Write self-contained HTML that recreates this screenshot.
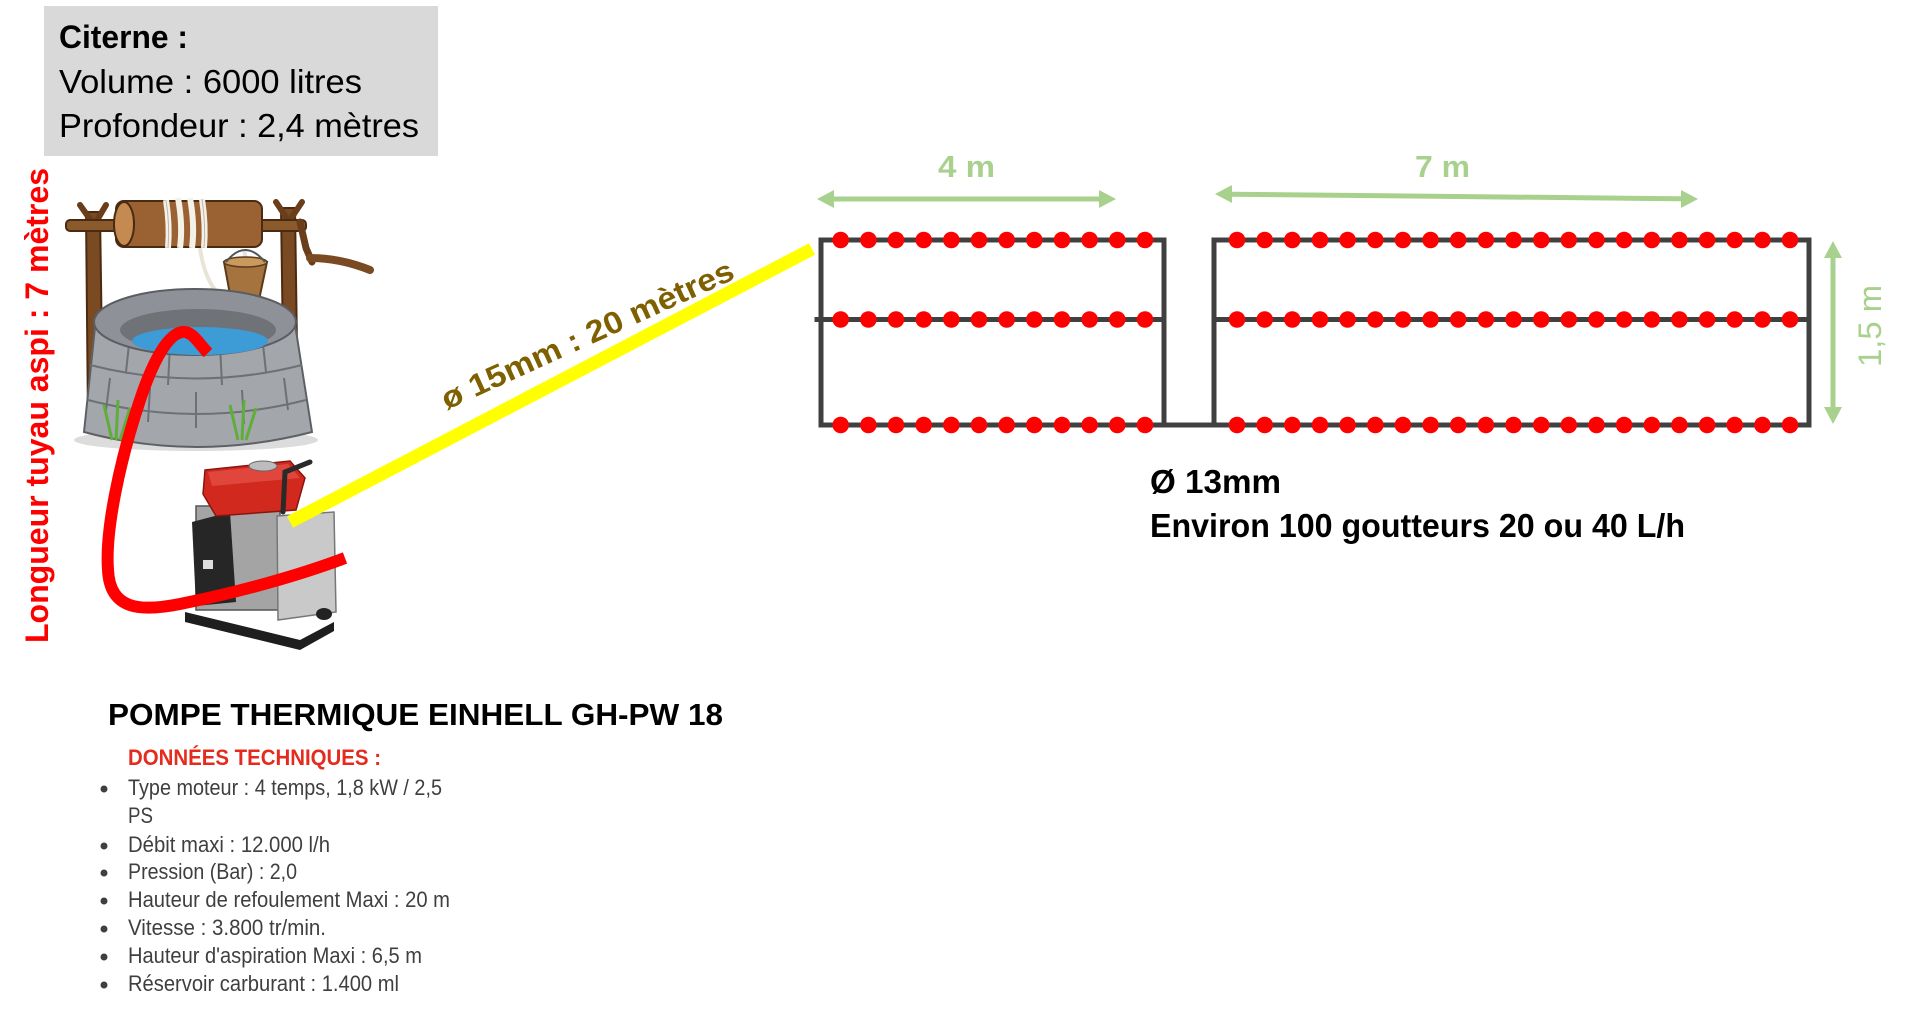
<!DOCTYPE html>
<html><head><meta charset="utf-8"><style>
html,body{margin:0;padding:0;background:#fff;}
body{width:1914px;height:1009px;overflow:hidden;}
svg{display:block;}
text{font-family:"Liberation Sans",sans-serif;}
</style></head><body>
<svg width="1914" height="1009" viewBox="0 0 1914 1009" xmlns="http://www.w3.org/2000/svg">
<defs>
<g id="rowL" fill="#ff0000">
<circle cx="840.7" cy="0" r="8.3"/><circle cx="868.4" cy="0" r="8.3"/><circle cx="896.0" cy="0" r="8.3"/><circle cx="923.7" cy="0" r="8.3"/><circle cx="951.3" cy="0" r="8.3"/><circle cx="979.0" cy="0" r="8.3"/><circle cx="1006.7" cy="0" r="8.3"/><circle cx="1034.3" cy="0" r="8.3"/><circle cx="1062.0" cy="0" r="8.3"/><circle cx="1089.6" cy="0" r="8.3"/><circle cx="1117.3" cy="0" r="8.3"/><circle cx="1145.0" cy="0" r="8.3"/>
</g>
<g id="rowR" fill="#ff0000">
<circle cx="1237.0" cy="0" r="8.3"/><circle cx="1264.7" cy="0" r="8.3"/><circle cx="1292.3" cy="0" r="8.3"/><circle cx="1320.0" cy="0" r="8.3"/><circle cx="1347.6" cy="0" r="8.3"/><circle cx="1375.3" cy="0" r="8.3"/><circle cx="1402.9" cy="0" r="8.3"/><circle cx="1430.6" cy="0" r="8.3"/><circle cx="1458.2" cy="0" r="8.3"/><circle cx="1485.9" cy="0" r="8.3"/><circle cx="1513.5" cy="0" r="8.3"/><circle cx="1541.2" cy="0" r="8.3"/><circle cx="1568.8" cy="0" r="8.3"/><circle cx="1596.5" cy="0" r="8.3"/><circle cx="1624.1" cy="0" r="8.3"/><circle cx="1651.8" cy="0" r="8.3"/><circle cx="1679.4" cy="0" r="8.3"/><circle cx="1707.1" cy="0" r="8.3"/><circle cx="1734.7" cy="0" r="8.3"/><circle cx="1762.4" cy="0" r="8.3"/><circle cx="1790.0" cy="0" r="8.3"/>
</g>
</defs>

<!-- Citerne box -->
<rect x="44" y="6" width="394" height="150" fill="#d9d9d9"/>
<text x="59" y="48" font-size="32" font-weight="bold" fill="#000" textLength="129" lengthAdjust="spacingAndGlyphs">Citerne :</text>
<text x="59" y="93" font-size="33" fill="#000" textLength="303" lengthAdjust="spacingAndGlyphs">Volume : 6000 litres</text>
<text x="59" y="137" font-size="33" fill="#000" textLength="360" lengthAdjust="spacingAndGlyphs">Profondeur : 2,4 mètres</text>

<!-- Vertical red label -->
<text transform="translate(48,643) rotate(-90)" font-size="32" font-weight="bold" fill="#ff0000" textLength="475" lengthAdjust="spacingAndGlyphs">Longueur tuyau aspi : 7 mètres</text>

<!-- WELL -->
<ellipse cx="196" cy="440" rx="122" ry="11" fill="#dcdcdc"/>
<path d="M86 212 L100 212 L103 420 L88 420 Z" fill="#7a4a22" stroke="#4a2a10" stroke-width="2"/>
<path d="M281 208 L295 208 L298 416 L284 416 Z" fill="#7a4a22" stroke="#4a2a10" stroke-width="2"/>
<path d="M80 205 L92 222 M106 205 L96 222 M276 202 L288 220 M302 202 L290 220" stroke="#6a3e1a" stroke-width="6" stroke-linecap="round"/>
<rect x="66" y="220" width="240" height="11" rx="4" fill="#8a5a2c" stroke="#4a2a10" stroke-width="2"/>
<rect x="116" y="201" width="146" height="46" rx="8" fill="#9a6233" stroke="#4a2a10" stroke-width="2"/>
<ellipse cx="124" cy="224" rx="10" ry="22" fill="#c48a52" stroke="#4a2a10" stroke-width="2"/>
<path d="M166 200 Q170 225 168 248 M178 198 Q183 225 180 248 M190 198 Q195 225 192 248 M202 199 Q206 225 204 248" stroke="#f4f1e8" stroke-width="6" fill="none"/>
<path d="M166 200 Q170 225 168 248 M202 199 Q206 225 204 248" stroke="#bdb7a8" stroke-width="1" fill="none"/>
<path d="M200 248 Q205 285 225 300 M244 250 Q246 258 246 262" stroke="#e8e4d8" stroke-width="4" fill="none"/>
<path d="M224 262 L267 262 L259 300 L231 300 Z" fill="#a5733d" stroke="#5a3a1a" stroke-width="2"/>
<ellipse cx="245.5" cy="262" rx="21.5" ry="5" fill="#c9995e" stroke="#5a3a1a" stroke-width="1.5"/>
<path d="M226 262 Q245 238 265 262" stroke="#555" stroke-width="2" fill="none"/>
<path d="M300 222 L306 248 L312 262" stroke="#6a3e1a" stroke-width="7" fill="none" stroke-linecap="round"/>
<path d="M310 258 Q340 258 370 270" stroke="#7a4a22" stroke-width="8" fill="none" stroke-linecap="round"/>
<path d="M96 318 L84 432 Q196 462 312 432 L294 318 Z" fill="#a3a7ac" stroke="#5d6166" stroke-width="2"/>
<path d="M90 365 Q196 392 302 365 M88 400 Q196 428 306 400 M130 335 L126 372 M170 345 L168 385 M220 345 L222 385 M262 335 L266 372 M110 378 L106 410 M150 388 L148 422 M196 392 L196 428 M242 390 L244 424 M284 378 L288 410" stroke="#6d7176" stroke-width="2" fill="none"/>
<ellipse cx="195" cy="322" rx="101" ry="33" fill="#8e9298" stroke="#5a5e63" stroke-width="2"/>
<ellipse cx="198" cy="330" rx="78" ry="21" fill="#6f7378"/>
<ellipse cx="200" cy="341" rx="68" ry="14" fill="#3d9bd6"/>
<path d="M112 440 L104 405 M116 440 L118 400 M120 440 L130 408 M238 440 L230 405 M242 440 L244 400 M246 440 L256 408" stroke="#5fae3a" stroke-width="3" fill="none"/>

<!-- PUMP -->
<path d="M185 612 L300 640 L334 622 L334 631 L300 650 L185 622 Z" fill="#1e1e1e"/>
<rect x="196" y="506" width="84" height="104" fill="#a4a4a4" stroke="#555" stroke-width="1.5"/>
<path d="M192 522 L230 512 L236 602 L196 606 Z" fill="#262626"/>
<rect x="203" y="560" width="10" height="9" fill="#ddd"/>
<path d="M277 516 L334 512 L336 612 L278 620 Z" fill="#c9c9c9" stroke="#777" stroke-width="1.5"/>
<path d="M205 470 L290 461 L305 478 L296 510 L216 516 L203 494 Z" fill="#d2291f" stroke="#8a1410" stroke-width="1.5"/>
<path d="M208 472 L288 464 L300 478 L212 486 Z" fill="#e0463c"/>
<ellipse cx="263" cy="466" rx="14" ry="5" fill="#bdbdbd" stroke="#666" stroke-width="1"/>
<path d="M283 512 L285 472 L310 462" stroke="#2a2a2a" stroke-width="5" fill="none" stroke-linecap="round"/>
<ellipse cx="324" cy="614" rx="8" ry="6" fill="#222"/>

<!-- red suction hose -->
<path d="M208 353 C200 345 192 330 182 332 C165 335 150 370 140 400 C120 460 105 530 108 570 C110 610 140 612 180 604 C240 592 300 575 345 558" stroke="#ff0000" stroke-width="12" fill="none" stroke-linejoin="round"/>

<!-- yellow pipe -->
<line x1="290" y1="522" x2="812" y2="249" stroke="#ffff00" stroke-width="13"/>
<text transform="translate(447,410) rotate(-24.5)" font-size="31" font-weight="bold" fill="#7f6000" textLength="318" lengthAdjust="spacingAndGlyphs">ø 15mm : 20 mètres</text>

<!-- GRID -->
<g stroke="#404040" stroke-width="5" fill="none" stroke-linecap="square">
<path d="M1164 240 L821 240 L821 425 L1214 425 M1164 240 L1164 425 M817 319.5 L1164 319.5"/>
<path d="M1214 425 L1214 240 L1809 240 L1809 425 L1214 425 M1214 319.5 L1809 319.5"/>
</g>
<use href="#rowL" y="240"/><use href="#rowL" y="319.5"/><use href="#rowL" y="425"/>
<use href="#rowR" y="240"/><use href="#rowR" y="319.5"/><use href="#rowR" y="425"/>

<!-- dimension arrows -->
<g fill="#a9d18e" stroke="none">
<line x1="832" y1="199" x2="1101" y2="199" stroke="#a9d18e" stroke-width="5"/>
<polygon points="817,199 834,190 834,208"/><polygon points="1116,199 1099,190 1099,208"/>
<line x1="1230" y1="194.2" x2="1683" y2="198.8" stroke="#a9d18e" stroke-width="5"/>
<polygon points="1215,194 1232,185 1232,203"/><polygon points="1698,199 1681,190 1681,208"/>
<line x1="1833" y1="256" x2="1833" y2="409" stroke="#a9d18e" stroke-width="5"/>
<polygon points="1833,241 1824,258 1842,258"/><polygon points="1833,424 1824,407 1842,407"/>
</g>
<text x="938" y="177" font-size="31" font-weight="bold" fill="#a9d18e" textLength="57" lengthAdjust="spacingAndGlyphs">4 m</text>
<text x="1415" y="177" font-size="31" font-weight="bold" fill="#a9d18e" textLength="55" lengthAdjust="spacingAndGlyphs">7 m</text>
<text transform="translate(1881,367) rotate(-90)" font-size="32" fill="#a9d18e" textLength="82" lengthAdjust="spacingAndGlyphs">1,5 m</text>

<!-- grid labels -->
<text x="1150" y="493" font-size="33" font-weight="bold" fill="#000" textLength="131" lengthAdjust="spacingAndGlyphs">Ø 13mm</text>
<text x="1150" y="537" font-size="33" font-weight="bold" fill="#000" textLength="535" lengthAdjust="spacingAndGlyphs">Environ 100 goutteurs 20 ou 40 L/h</text>

<!-- pump specs -->
<text x="108" y="725" font-size="31" font-weight="bold" fill="#000" textLength="615" lengthAdjust="spacingAndGlyphs">POMPE THERMIQUE EINHELL GH-PW 18</text>
<text x="128" y="765" font-size="22" font-weight="bold" fill="#e42b1e" textLength="253" lengthAdjust="spacingAndGlyphs">DONNÉES TECHNIQUES :</text>
<g fill="#3f3f3f">
<circle cx="104" cy="789" r="3.5"/><circle cx="104" cy="846" r="3.5"/><circle cx="104" cy="873" r="3.5"/><circle cx="104" cy="901" r="3.5"/><circle cx="104" cy="929" r="3.5"/><circle cx="104" cy="957" r="3.5"/><circle cx="104" cy="985" r="3.5"/>
<text x="128" y="795" font-size="22" textLength="314" lengthAdjust="spacingAndGlyphs">Type moteur : 4 temps, 1,8 kW / 2,5</text>
<text x="128" y="823" font-size="22" textLength="25" lengthAdjust="spacingAndGlyphs">PS</text>
<text x="128" y="852" font-size="22" textLength="202" lengthAdjust="spacingAndGlyphs">Débit maxi : 12.000 l/h</text>
<text x="128" y="879" font-size="22" textLength="169" lengthAdjust="spacingAndGlyphs">Pression (Bar) : 2,0</text>
<text x="128" y="907" font-size="22" textLength="322" lengthAdjust="spacingAndGlyphs">Hauteur de refoulement Maxi : 20 m</text>
<text x="128" y="935" font-size="22" textLength="198" lengthAdjust="spacingAndGlyphs">Vitesse : 3.800 tr/min.</text>
<text x="128" y="963" font-size="22" textLength="294" lengthAdjust="spacingAndGlyphs">Hauteur d'aspiration Maxi : 6,5 m</text>
<text x="128" y="991" font-size="22" textLength="271" lengthAdjust="spacingAndGlyphs">Réservoir carburant : 1.400 ml</text>
</g>
</svg>
</body></html>
